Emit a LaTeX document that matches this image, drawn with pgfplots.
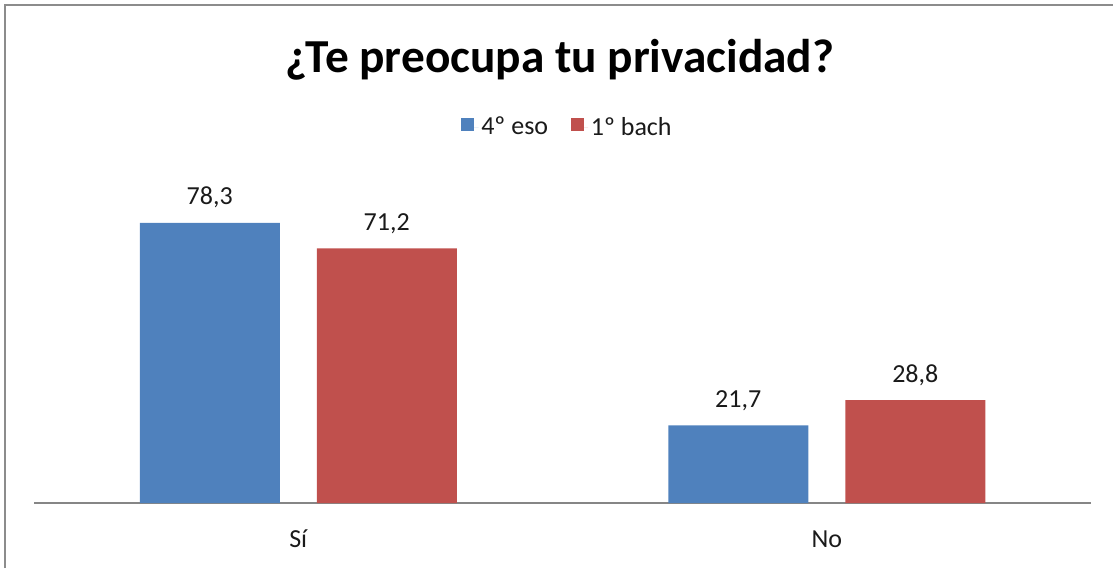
\documentclass[border=0pt]{standalone}
\usepackage{fontspec}
\setmainfont{Carlito}
\usepackage{pgfplots}
\pgfplotsset{compat=1.18}
\definecolor{cblue}{HTML}{4F81BD}
\definecolor{cred}{HTML}{C0504D}
\definecolor{framec}{HTML}{8C8C8C}
\definecolor{axl}{HTML}{868686}
\definecolor{txt}{HTML}{1A1A1A}
\newcommand{\lbl}{\fontsize{19.5pt}{23pt}\selectfont}
\begin{document}
\begin{tikzpicture}
\begin{scope}[x=0.75pt,y=-0.75pt]
\path[use as bounding box] (0,0) rectangle (1113,568);
\draw[framec, line width=1.5pt] (5,568) -- (5,4.5) -- (1113,4.5);
\node[font=\fontsize{35.5pt}{40pt}\selectfont\bfseries, text=black] at (560,60) {¿Te preocupa tu privacidad?};
\end{scope}
\begin{axis}[
  at={(25.5pt,-377.25pt)}, anchor=south west, scale only axis,
  width=792.75pt, height=241.4pt,
  ymin=0, ymax=90, xmin=-0.5, xmax=1.5,
  ybar=27.75pt, bar width=105pt,
  hide y axis,
  axis x line*=bottom,
  x axis line style={-, draw=axl, line width=1.5pt},
  xtick={0,1}, xticklabels={Sí,No},
  major tick length=0pt, xtick style={draw=none},
  xticklabel style={font=\lbl, text=txt, anchor=base, yshift=-33pt},
  /pgf/number format/.cd, use comma, fixed, fixed zerofill, precision=1, assume math mode=true,
  /pgfplots/.cd,
  nodes near coords,
  nodes near coords style={font=\lbl, text=txt, anchor=base, yshift=13.5pt},
  legend style={at={(0.505,1.168)}, anchor=center, draw=none, fill=none,
    legend columns=2, font=\lbl, text=txt,
    /tikz/every even column/.append style={column sep=15pt}},
]
\addplot[fill=cblue, draw=none, legend image code/.code={\fill[cblue] (0pt,-3.2pt) rectangle (9.75pt,6.5pt); \path (0pt,0pt) -- (13pt,0pt);}] coordinates {(0,78.3) (1,21.7)};
\addplot[fill=cred, draw=none, legend image code/.code={\fill[cred] (0pt,-3.2pt) rectangle (9.75pt,6.5pt); \path (0pt,0pt) -- (13pt,0pt);}] coordinates {(0,71.2) (1,28.8)};
\legend{4º eso, 1º bach}
\end{axis}
\end{tikzpicture}
\end{document}
